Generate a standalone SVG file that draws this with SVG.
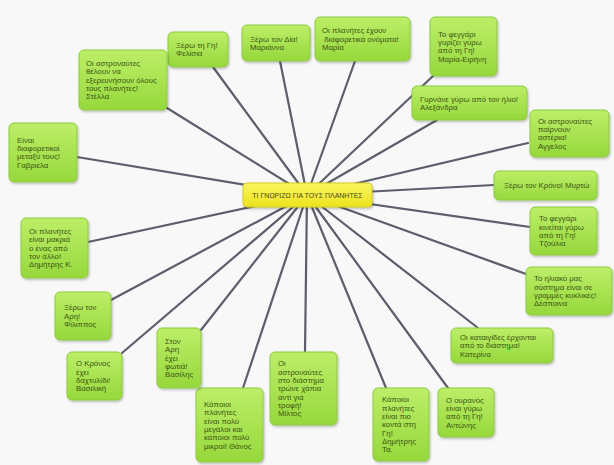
<svg xmlns="http://www.w3.org/2000/svg" width="614" height="465" viewBox="0 0 614 465">
<defs>
<linearGradient id="g" x1="0" y1="0" x2="0" y2="1"><stop offset="0" stop-color="#bdee68"/><stop offset="1" stop-color="#96d83c"/></linearGradient>
<linearGradient id="y" x1="0" y1="0" x2="0" y2="1"><stop offset="0" stop-color="#faf65e"/><stop offset="1" stop-color="#ece21e"/></linearGradient>
<filter id="s" x="-20%" y="-20%" width="140%" height="150%"><feDropShadow dx="1" dy="1.5" stdDeviation="1.2" flood-color="#000" flood-opacity="0.25"/></filter>
</defs>
<style>
.n rect{fill:url(#g);stroke:#8ccb40;stroke-width:1;filter:url(#s)}
.n text{font-family:"Liberation Sans","DejaVu Sans",sans-serif;font-size:7.8px;fill:#3b5512}
.c line{stroke:#5c5e6c;stroke-width:2.2;stroke-linecap:round}
</style>
<rect width="614" height="465" fill="#f8f8f8"/>
<g class="c" id="connectors">
<line x1="307" y1="195" x2="213" y2="67"/>
<line x1="307" y1="195" x2="167" y2="108"/>
<line x1="307" y1="195" x2="77" y2="157"/>
<line x1="307" y1="195" x2="280" y2="61"/>
<line x1="307" y1="195" x2="355" y2="61"/>
<line x1="307" y1="195" x2="433" y2="76"/>
<line x1="307" y1="195" x2="437" y2="120"/>
<line x1="307" y1="195" x2="528" y2="143"/>
<line x1="307" y1="195" x2="494" y2="185"/>
<line x1="307" y1="195" x2="530" y2="227"/>
<line x1="307" y1="195" x2="526" y2="274"/>
<line x1="307" y1="195" x2="478" y2="328"/>
<line x1="307" y1="195" x2="448" y2="388"/>
<line x1="307" y1="195" x2="386" y2="388"/>
<line x1="307" y1="195" x2="305" y2="352"/>
<line x1="307" y1="195" x2="243" y2="388"/>
<line x1="307" y1="195" x2="201" y2="330"/>
<line x1="307" y1="195" x2="122" y2="353"/>
<line x1="307" y1="195" x2="111" y2="300"/>
<line x1="307" y1="195" x2="88" y2="242"/>
</g>
<g id="center">
<rect x="243" y="183" width="129" height="24" rx="4" fill="url(#y)" stroke="#d4ca22" stroke-width="1" filter="url(#s)"/>
<text x="307.5" y="197.5" text-anchor="middle" font-family="Liberation Sans, DejaVu Sans, sans-serif" font-size="7px" fill="#4a4a1e">ΤΙ ΓΝΩΡΙΖΩ ΓΙΑ ΤΟΥΣ ΠΛΑΝΗΤΕΣ</text>
</g>
<g class="n" id="n1"><rect x="168" y="32" width="60" height="35" rx="5"/><text x="176" y="48"><tspan>Ξέρω τη Γη!</tspan><tspan x="176" dy="8.3">Φελίσια</tspan></text></g>
<g class="n" id="n2"><rect x="79" y="50" width="88" height="60" rx="5"/><text x="86" y="66.1"><tspan>Οι αστροναύτες</tspan><tspan x="86" dy="8.3">θέλουν να</tspan><tspan x="86" dy="8.3">εξερευνήσουν όλους</tspan><tspan x="86" dy="8.3">τους πλανήτες!</tspan><tspan x="86" dy="8.3">Στέλλα</tspan></text></g>
<g class="n" id="n3"><rect x="9" y="123" width="68" height="59" rx="5"/><text x="17" y="142.8"><tspan>Είναι</tspan><tspan x="17" dy="8.3">διαφορετικοί</tspan><tspan x="17" dy="8.3">μεταξύ τους!</tspan><tspan x="17" dy="8.3">Γαβριέλα</tspan></text></g>
<g class="n" id="n4"><rect x="242" y="25" width="68" height="36" rx="5"/><text x="250" y="41.6"><tspan>Ξέρω τον Δία!</tspan><tspan x="250" dy="8.3">Μαριάννα</tspan></text></g>
<g class="n" id="n5"><rect x="315" y="17" width="95" height="44" rx="5"/><text x="322" y="33.4"><tspan>Οι πλανήτες έχουν</tspan><tspan x="322" dy="8.3"> διαφορετικά ονόματα!</tspan><tspan x="322" dy="8.3">Μαρία</tspan></text></g>
<g class="n" id="n6"><rect x="430" y="17" width="67" height="59" rx="5"/><text x="438" y="36.8"><tspan>Το φεγγάρι</tspan><tspan x="438" dy="8.3">γυρίζει γύρω</tspan><tspan x="438" dy="8.3">από τη Γη!</tspan><tspan x="438" dy="8.3">Μαρία-Ειρήνη</tspan></text></g>
<g class="n" id="n7"><rect x="412" y="86" width="115" height="34" rx="5"/><text x="420" y="101.6"><tspan>Γυρνάνε γύρω από τον ήλιο!</tspan><tspan x="420" dy="8.3">Αλεξάνδρα</tspan></text></g>
<g class="n" id="n8"><rect x="530" y="110" width="79" height="47" rx="5"/><text x="538" y="123.8"><tspan>Οι αστροναύτες</tspan><tspan x="538" dy="8.3">παίρνουν</tspan><tspan x="538" dy="8.3">αστέρια!</tspan><tspan x="538" dy="8.3">Αγγελος</tspan></text></g>
<g class="n" id="n9"><rect x="494" y="171" width="103" height="29" rx="5"/><text x="504" y="188.2">Ξέρω τον Κρόνο! Μυρτώ</text></g>
<g class="n" id="n10"><rect x="530" y="207" width="67" height="48" rx="5"/><text x="539" y="221.3"><tspan>Το φεγγάρι</tspan><tspan x="539" dy="8.3">κινείται γύρω</tspan><tspan x="539" dy="8.3">από τη Γη!</tspan><tspan x="539" dy="8.3">Τζούλια</tspan></text></g>
<g class="n" id="n11"><rect x="526" y="267" width="86" height="48" rx="5"/><text x="534" y="281.3"><tspan>Το ηλιακό μας</tspan><tspan x="534" dy="8.3">σύστημα είναι σε</tspan><tspan x="534" dy="8.3">γραμμές κυκλικές!</tspan><tspan x="534" dy="8.3">Δέσποινα</tspan></text></g>
<g class="n" id="n12"><rect x="451" y="328" width="102" height="35" rx="5"/><text x="460" y="339.9"><tspan>Οι καταιγίδες έρχονται</tspan><tspan x="460" dy="8.3">από το διάστημα!</tspan><tspan x="460" dy="8.3">Κατερίνα</tspan></text></g>
<g class="n" id="n13"><rect x="438" y="388" width="56" height="49" rx="5"/><text x="446" y="402.8"><tspan>Ο ουρανός</tspan><tspan x="446" dy="8.3">είναι γύρω</tspan><tspan x="446" dy="8.3">από τη Γη!</tspan><tspan x="446" dy="8.3">Αντώνης</tspan></text></g>
<g class="n" id="n14"><rect x="373" y="388" width="56" height="73" rx="5"/><text x="382" y="402.3"><tspan>Κάποιοι</tspan><tspan x="382" dy="8.3">πλανήτες</tspan><tspan x="382" dy="8.3">είναι πιο</tspan><tspan x="382" dy="8.3">κοντά στη</tspan><tspan x="382" dy="8.3">Γη!</tspan><tspan x="382" dy="8.3">Δημήτρης</tspan><tspan x="382" dy="8.3">Τα.</tspan></text></g>
<g class="n" id="n15"><rect x="270" y="352" width="67" height="73" rx="5"/><text x="278" y="366.3"><tspan>Οι</tspan><tspan x="278" dy="8.3">αστροναύτες</tspan><tspan x="278" dy="8.3">στο διάστημα</tspan><tspan x="278" dy="8.3">τρώνε χάπια</tspan><tspan x="278" dy="8.3">αντί για</tspan><tspan x="278" dy="8.3">τροφή!</tspan><tspan x="278" dy="8.3">Μίλτος</tspan></text></g>
<g class="n" id="n16"><rect x="196" y="388" width="67" height="74" rx="5"/><text x="204" y="407"><tspan>Κάποιοι</tspan><tspan x="204" dy="8.3">πλανήτες</tspan><tspan x="204" dy="8.3">είναι πολύ</tspan><tspan x="204" dy="8.3">μεγάλοι και</tspan><tspan x="204" dy="8.3">κάποιοι πολύ</tspan><tspan x="204" dy="8.3">μικροί! Θάνος</tspan></text></g>
<g class="n" id="n17"><rect x="157" y="328" width="44" height="60" rx="5"/><text x="165" y="344.1"><tspan>Στον</tspan><tspan x="165" dy="8.3">Αρη</tspan><tspan x="165" dy="8.3">έχει</tspan><tspan x="165" dy="8.3">φωτιά!</tspan><tspan x="165" dy="8.3">Βασίλης</tspan></text></g>
<g class="n" id="n18"><rect x="67" y="352" width="55" height="48" rx="5"/><text x="76" y="366.3"><tspan>Ο Κρόνος</tspan><tspan x="76" dy="8.3">έχει</tspan><tspan x="76" dy="8.3">δαχτυλίδι!</tspan><tspan x="76" dy="8.3">Βασιλική</tspan></text></g>
<g class="n" id="n19"><rect x="55" y="292" width="56" height="48" rx="5"/><text x="64" y="310.4"><tspan>Ξέρω τον</tspan><tspan x="64" dy="8.3">Αρη!</tspan><tspan x="64" dy="8.3">Φίλιππος</tspan></text></g>
<g class="n" id="n20"><rect x="21" y="218" width="67" height="60" rx="5"/><text x="29" y="234.1"><tspan>Οι πλανήτες</tspan><tspan x="29" dy="8.3">είναι μακριά</tspan><tspan x="29" dy="8.3">ο ένας από</tspan><tspan x="29" dy="8.3">τον άλλο!</tspan><tspan x="29" dy="8.3">Δημήτρης Κ.</tspan></text></g>
</svg>
